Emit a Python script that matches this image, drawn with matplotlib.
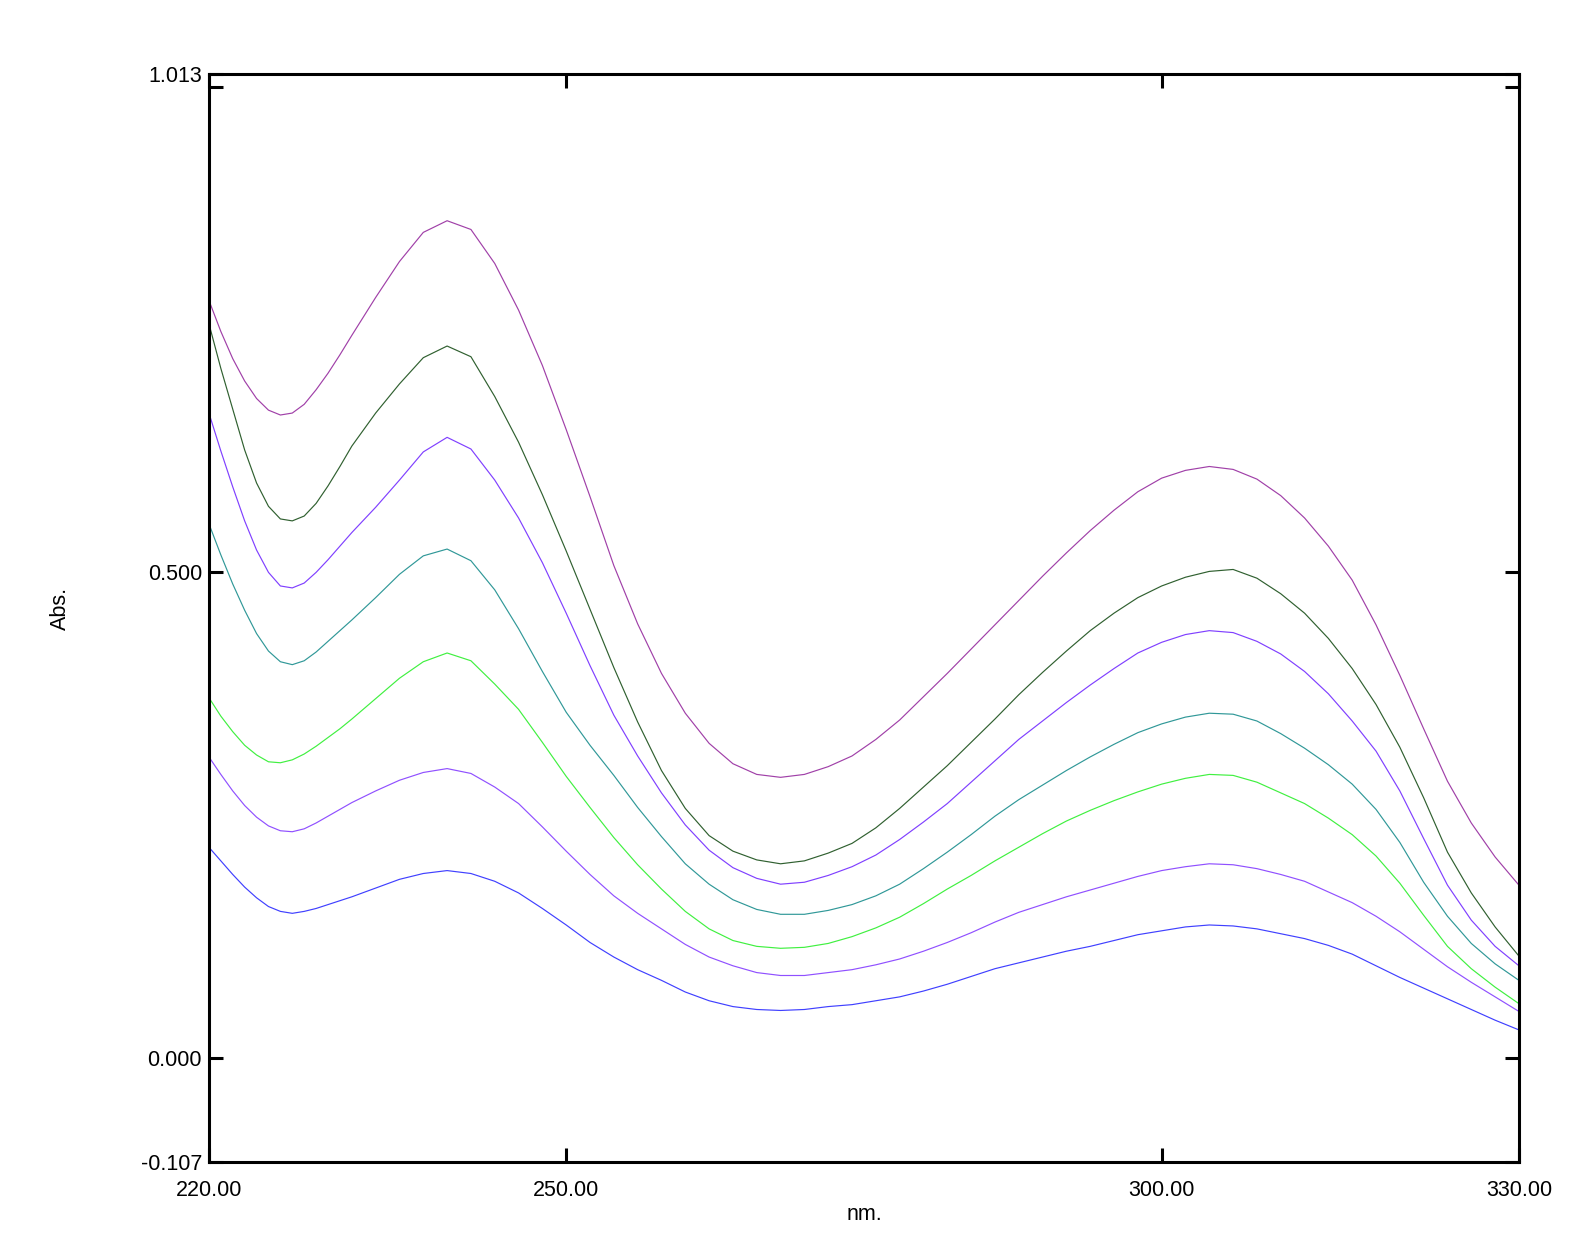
"""UV-Vis absorbance spectra, seven concentrations."""

import matplotlib
matplotlib.use("Agg")
import matplotlib.pyplot as plt

plt.rcParams["font.family"] = ["Liberation Sans", "DejaVu Sans"]

# 1 nm steps over the sharp first minimum, then 2 nm steps
wavelength = list(range(220, 232)) + list(range(232, 331, 2))

abs_magenta = [0.780, 0.748, 0.720, 0.697, 0.679, 0.667, 0.662, 0.664, 0.673, 0.688,
               0.705, 0.724,
               0.744, 0.783, 0.820, 0.850,
               0.862, 0.853, 0.818, 0.770, 0.713, 0.647, 0.578, 0.507, 0.447, 0.396,
               0.355, 0.324, 0.303, 0.292, 0.289, 0.292, 0.300, 0.311, 0.328, 0.348,
               0.372, 0.396, 0.421, 0.446, 0.471, 0.496, 0.520, 0.543, 0.564, 0.583,
               0.597, 0.605, 0.609, 0.606, 0.596, 0.579, 0.556, 0.527, 0.492, 0.446,
               0.394, 0.339, 0.285, 0.242, 0.207, 0.178]

abs_darkgreen = [0.756, 0.710, 0.668, 0.626, 0.592, 0.568, 0.555, 0.553, 0.558, 0.571,
                 0.589, 0.609,
                 0.630, 0.664, 0.694, 0.721,
                 0.733, 0.722, 0.681, 0.634, 0.580, 0.522, 0.462, 0.402, 0.346, 0.296,
                 0.257, 0.229, 0.213, 0.204, 0.200, 0.203, 0.211, 0.221, 0.237, 0.257,
                 0.279, 0.301, 0.325, 0.349, 0.374, 0.397, 0.419, 0.440, 0.458, 0.474,
                 0.486, 0.495, 0.501, 0.503, 0.494, 0.478, 0.458, 0.432, 0.401, 0.364,
                 0.320, 0.268, 0.212, 0.170, 0.135, 0.105]

abs_violet = [0.664, 0.625, 0.588, 0.553, 0.523, 0.500, 0.486, 0.484, 0.489, 0.500,
              0.513, 0.527,
              0.541, 0.567, 0.595, 0.624,
              0.639, 0.627, 0.595, 0.556, 0.510, 0.458, 0.404, 0.353, 0.311, 0.273,
              0.240, 0.214, 0.196, 0.185, 0.179, 0.181, 0.188, 0.197, 0.209, 0.225,
              0.243, 0.262, 0.284, 0.306, 0.328, 0.347, 0.366, 0.384, 0.401, 0.417,
              0.428, 0.436, 0.440, 0.438, 0.429, 0.416, 0.398, 0.375, 0.347, 0.316,
              0.275, 0.226, 0.178, 0.142, 0.115, 0.095]

abs_teal = [0.550, 0.518, 0.488, 0.461, 0.437, 0.419, 0.408, 0.405, 0.409, 0.418,
            0.429, 0.440,
            0.451, 0.474, 0.498, 0.517,
            0.524, 0.512, 0.482, 0.442, 0.398, 0.356, 0.322, 0.291, 0.258, 0.228,
            0.200, 0.179, 0.163, 0.153, 0.148, 0.148, 0.152, 0.158, 0.167, 0.179,
            0.195, 0.212, 0.230, 0.249, 0.266, 0.281, 0.296, 0.310, 0.323, 0.335,
            0.344, 0.351, 0.355, 0.354, 0.347, 0.334, 0.319, 0.302, 0.282, 0.256,
            0.222, 0.181, 0.146, 0.118, 0.097, 0.080]

abs_green = [0.371, 0.352, 0.336, 0.322, 0.312, 0.305, 0.304, 0.307, 0.313, 0.321,
             0.330, 0.339,
             0.349, 0.370, 0.391, 0.408,
             0.417, 0.409, 0.385, 0.359, 0.325, 0.290, 0.258, 0.227, 0.199, 0.174,
             0.151, 0.133, 0.121, 0.115, 0.113, 0.114, 0.118, 0.125, 0.134, 0.145,
             0.159, 0.174, 0.188, 0.203, 0.217, 0.231, 0.244, 0.255, 0.265, 0.274,
             0.282, 0.288, 0.292, 0.291, 0.284, 0.273, 0.262, 0.247, 0.230, 0.208,
             0.180, 0.147, 0.115, 0.092, 0.073, 0.056]

abs_lilac = [0.310, 0.292, 0.275, 0.260, 0.248, 0.239, 0.234, 0.233, 0.236, 0.242,
             0.249, 0.256,
             0.263, 0.275, 0.286, 0.294,
             0.298, 0.293, 0.279, 0.262, 0.238, 0.213, 0.189, 0.167, 0.149, 0.133,
             0.117, 0.104, 0.095, 0.088, 0.085, 0.085, 0.088, 0.091, 0.096, 0.102,
             0.110, 0.119, 0.129, 0.140, 0.150, 0.158, 0.166, 0.173, 0.180, 0.187,
             0.193, 0.197, 0.200, 0.199, 0.195, 0.189, 0.182, 0.171, 0.160, 0.146,
             0.130, 0.112, 0.094, 0.078, 0.063, 0.048]

abs_blue = [0.217, 0.203, 0.189, 0.176, 0.165, 0.156, 0.151, 0.149, 0.151, 0.154,
            0.158, 0.162,
            0.166, 0.175, 0.184, 0.190,
            0.193, 0.190, 0.182, 0.170, 0.154, 0.137, 0.119, 0.104, 0.091, 0.080,
            0.068, 0.059, 0.053, 0.050, 0.049, 0.050, 0.053, 0.055, 0.059, 0.063,
            0.069, 0.076, 0.084, 0.092, 0.098, 0.104, 0.110, 0.115, 0.121, 0.127,
            0.131, 0.135, 0.137, 0.136, 0.133, 0.128, 0.123, 0.116, 0.107, 0.095,
            0.083, 0.072, 0.061, 0.050, 0.039, 0.029]

series = [
    (abs_magenta, "#a040a8"),
    (abs_darkgreen, "#306030"),
    (abs_violet, "#8040ff"),
    (abs_teal, "#309898"),
    (abs_green, "#40f040"),
    (abs_lilac, "#9050ff"),
    (abs_blue, "#4040ff"),
]

x_ticks = [220, 250, 300, 330]
x_labels = ["220.00", "250.00", "300.00", "330.00"]
y_ticks = [-0.107, 0.0, 0.5, 1.0, 1.013]
y_labels = ["-0.107", "0.000", "0.500", "", "1.013"]

fig = plt.figure(figsize=(15.9, 12.55), dpi=100)
ax = fig.add_axes([0.1314, 0.0741, 0.8239, 0.8669])

for values, color in series:
    ax.plot(wavelength, values, color=color, linewidth=0.85)

ax.set_xlim(220, 330)
ax.set_ylim(-0.107, 1.013)
ax.set_xticks(x_ticks)
ax.set_xticklabels(x_labels)
ax.set_yticks(y_ticks)
ax.set_yticklabels(y_labels)

for spine in ax.spines.values():
    spine.set_linewidth(2.2)
ax.tick_params(direction="in", length=10, width=2.2, labelsize=15.5,
               top=True, right=True, colors="black")
ax.tick_params(axis="x", pad=13)
ax.tick_params(axis="y", pad=5)

fig.text(60 / 1590, 1 - 608 / 1255, "Abs.", rotation=90, fontsize=15.5,
         ha="center", va="center")
fig.text(864 / 1590, 1 - 1214 / 1255, "nm.", fontsize=15.5,
         ha="center", va="center")

fig.savefig("out.png", dpi=100)
